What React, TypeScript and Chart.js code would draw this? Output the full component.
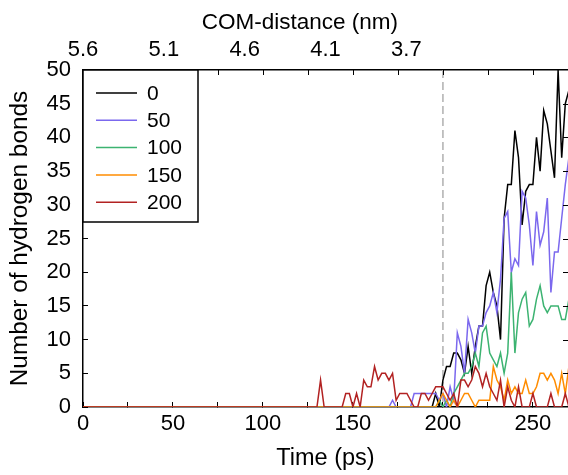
import React, { useEffect, useRef } from "react";
import { Chart, registerables } from "chart.js";

Chart.register(...registerables);

// Time axis (ps); all series are 0 between 0 and 130 ps
const times = [
  0,
  130, 132, 134, 136, 138, 140, 142, 144, 146, 148,
  150, 152, 154, 156, 158, 160, 162, 164, 166, 168,
  170, 172, 174, 176, 178, 180, 182, 184, 186, 188,
  190, 192, 194, 196, 198, 200, 202, 204, 206, 208,
  210, 212, 214, 216, 218, 220, 222, 224, 226, 228,
  230, 232, 234, 236, 238, 240, 242, 244, 246, 248,
  250, 252, 254, 256, 258, 260, 262, 264, 266, 268,
  270,
];

const hb0 = [
  0,
  0, 0, 0, 0, 0, 0, 0, 0, 0, 0,
  0, 0, 0, 0, 0, 0, 0, 0, 0, 0,
  0, 0, 0, 0, 0, 0, 0, 0, 0, 0,
  0, 0, 0, 2, 0, 4, 6, 6, 8, 8,
  7, 5, 9, 5, 9, 12, 12, 18, 20, 17,
  15, 10, 28, 33, 33, 41, 37, 27, 32, 33,
  33, 40, 35, 44, 42, 38, 34, 50, 37, 45,
  47,
];

const hb50 = [
  0,
  0, 0, 0, 0, 0, 0, 0, 0, 0, 0,
  0, 0, 0, 0, 0, 0, 0, 0, 0, 0,
  0, 1, 0, 0, 0, 0, 0, 2, 2, 2,
  2, 2, 2, 2, 1, 2, 0, 3, 1, 11,
  9, 5, 13, 11, 8, 12, 12, 14, 15, 17,
  14, 19, 28, 29, 20, 22, 21, 32, 31, 27,
  21, 29, 24, 26, 31, 17, 23, 23, 28, 33,
  37,
];

const hb100 = [
  0,
  0, 0, 0, 0, 0, 0, 0, 0, 0, 0,
  0, 0, 0, 0, 0, 0, 0, 0, 0, 0,
  0, 0, 0, 0, 0, 0, 0, 0, 0, 0,
  0, 0, 0, 0, 1, 0, 1, 0, 2, 3,
  4, 5, 5, 6, 8, 6, 11, 12, 8, 7,
  6, 8, 5, 8, 20, 8, 14, 16, 17, 12,
  13, 16, 18, 15, 14, 15, 15, 15, 13, 13,
  16,
];

const hb150 = [
  0,
  0, 0, 0, 0, 0, 0, 0, 0, 0, 0,
  0, 0, 0, 0, 0, 0, 0, 0, 0, 0,
  0, 0, 0, 0, 0, 0, 0, 0, 0, 0,
  0, 0, 0, 0, 1, 2, 1, 0, 1, 0,
  1, 2, 2, 1, 0, 1, 1, 1, 1, 6,
  4, 3, 1, 4, 2, 3, 2, 2, 4, 2,
  2, 3, 5, 5, 4, 5, 4, 2, 5, 2,
  6,
];

const hb200 = [
  0,
  0, 4, 0, 0, 0, 0, 0, 0, 2, 2,
  0, 2, 0, 4, 3, 3, 6, 4, 5, 5,
  4, 5, 1, 2, 2, 2, 1, 0, 0, 2,
  2, 1, 2, 3, 3, 3, 2, 1, 2, 0,
  4, 4, 3, 4, 6, 5, 3, 5, 3, 2,
  1, 4, 0, 3, 1, 0, 3, 0, 0, 0,
  2, 0, 0, 0, 0, 2, 0, 0, 0, 2,
  0,
];

const seriesLabels = ["0", "50", "100", "150", "200"];
const seriesColors = ["#000000", "#7b68ee", "#3cb371", "#ff8c00", "#b22222"];
const topTickLabels = ["5.6", "5.1", "4.6", "4.1", "3.7"];
const topTitle = "COM-distance (nm)";
const bottomTitle = "Time (ps)";
const leftTitle = "Number of hydrogen bonds";
const markerTime = 200;
const xMin = 0;
const xMax = 269.5;
const yMin = 0;
const yMax = 50;

const FONT = "'Liberation Sans', Arial, Helvetica, sans-serif";

function zeroPadding(s: any) {
  s.paddingLeft = 0;
  s.paddingRight = 0;
  s.paddingTop = 0;
  s.paddingBottom = 0;
}

export default function App() {
  const ref = useRef<HTMLCanvasElement>(null);

  useEffect(() => {
    if (!ref.current) return;
    const series = [hb0, hb50, hb100, hb150, hb200];
    const datasets = series.map((vals, i) => ({
      label: seriesLabels[i],
      data: times.map((t, j) => ({ x: t, y: vals[j] })),
      borderColor: seriesColors[i],
      backgroundColor: seriesColors[i],
      borderWidth: 1.5,
      pointRadius: 0,
      tension: 0,
      fill: false,
      order: series.length - 1 - i,
    }));

    const markerPlugin = {
      id: "marker",
      beforeDatasetsDraw(chart: any) {
        const { ctx, chartArea, scales } = chart;
        const x = scales.x.getPixelForValue(markerTime);
        ctx.save();
        ctx.strokeStyle = "#b0b0b0";
        ctx.lineWidth = 1.5;
        ctx.setLineDash([8, 4]);
        ctx.beginPath();
        ctx.moveTo(x, chartArea.top);
        ctx.lineTo(x, chartArea.bottom);
        ctx.stroke();
        ctx.restore();
      },
    };

    const mirrorPlugin = {
      id: "mirror",
      afterDraw(chart: any) {
        const { ctx, chartArea, scales } = chart;
        ctx.save();
        ctx.strokeStyle = "#000";
        ctx.lineWidth = 1;
        ctx.beginPath();
        scales.x.ticks.forEach((t: any) => {
          const px = Math.round(scales.x.getPixelForValue(t.value)) + 0.5;
          if (px > chartArea.left + 2 && px < chartArea.right - 2) {
            ctx.moveTo(px, chartArea.top);
            ctx.lineTo(px, chartArea.top + 5);
          }
        });
        scales.y.ticks.forEach((t: any) => {
          const py = Math.round(scales.y.getPixelForValue(t.value)) + 0.5;
          if (py > chartArea.top + 2 && py < chartArea.bottom - 2) {
            ctx.moveTo(chartArea.right, py);
            ctx.lineTo(chartArea.right - 5, py);
          }
        });
        ctx.stroke();
        ctx.restore();
      },
    };

    const legendPlugin = {
      id: "boxLegend",
      afterDraw(chart: any) {
        const { ctx, chartArea } = chart;
        const left = chartArea.left;
        const top = chartArea.top;
        const w = 115;
        const h = 152;
        ctx.save();
        ctx.fillStyle = "#ffffff";
        ctx.fillRect(left, top, w, h);
        ctx.strokeStyle = "#000";
        ctx.lineWidth = 1.5;
        ctx.strokeRect(left, top, w, h);
        ctx.font = `21px ${FONT}`;
        ctx.textBaseline = "middle";
        ctx.textAlign = "left";
        chart.data.datasets.forEach((ds: any, i: number) => {
          const y = top + 23 + i * 27.3;
          ctx.strokeStyle = ds.borderColor;
          ctx.lineWidth = 1.5;
          ctx.beginPath();
          ctx.moveTo(left + 13, y);
          ctx.lineTo(left + 54, y);
          ctx.stroke();
          ctx.fillStyle = "#000";
          ctx.fillText(ds.label, left + 64, y + 1);
        });
        ctx.restore();
      },
    };

    const topTitlePlugin = {
      id: "topTitle",
      afterDraw(chart: any) {
        const { ctx, chartArea } = chart;
        ctx.save();
        ctx.font = `22.5px ${FONT}`;
        ctx.fillStyle = "#000";
        ctx.textAlign = "center";
        ctx.textBaseline = "middle";
        ctx.fillText(topTitle, chartArea.left + 0.447 * (chartArea.right - chartArea.left), 23);
        ctx.restore();
      },
    };

    const chart = new Chart(ref.current, {
      type: "line",
      data: { datasets: datasets as any },
      plugins: [markerPlugin, mirrorPlugin, legendPlugin, topTitlePlugin],
      options: {
        animation: false,
        responsive: false,
        maintainAspectRatio: false,
        layout: { padding: 0 },
        plugins: {
          legend: { display: false },
          tooltip: { enabled: false },
          title: { display: false },
        },
        scales: {
          x: {
            type: "linear",
            position: "bottom",
            min: xMin,
            max: xMax,
            afterFit: (s: any) => {
              s.height = 68;
              zeroPadding(s);
            },
            grid: {
              display: true,
              drawOnChartArea: false,
              drawTicks: true,
              tickLength: -5,
              color: "#000",
              lineWidth: 1,
            },
            border: { display: true, color: "#000", width: 1.5 },
            ticks: {
              stepSize: 25,
              autoSkip: false,
              includeBounds: false,
              maxRotation: 0,
              minRotation: 0,
              padding: 8.8,
              color: "#000",
              font: { family: FONT, size: 22 },
              callback: (v: any) => (Number(v) % 50 === 0 ? String(v) : ""),
            },
            title: {
              display: true,
              text: bottomTitle,
              color: "#000",
              font: { family: FONT, size: 23.5 },
              padding: { top: 0, bottom: 2 },
            },
          },
          x2: {
            type: "linear",
            position: "top",
            min: xMin,
            max: xMax,
            afterFit: (s: any) => {
              s.height = 70;
              zeroPadding(s);
            },
            grid: { display: false, drawTicks: false },
            border: { display: true, color: "#000", width: 1.5 },
            ticks: {
              stepSize: 45,
              autoSkip: false,
              includeBounds: false,
              maxRotation: 0,
              minRotation: 0,
              padding: 6.8,
              color: "#000",
              font: { family: FONT, size: 22 },
              callback: (_v: any, i: number) => topTickLabels[i] ?? "",
            },
          },
          y: {
            type: "linear",
            position: "left",
            min: yMin,
            max: yMax,
            afterFit: (s: any) => {
              s.width = 83;
              zeroPadding(s);
            },
            grid: {
              display: true,
              drawOnChartArea: false,
              drawTicks: true,
              tickLength: -5,
              color: "#000",
              lineWidth: 1,
            },
            border: { display: true, color: "#000", width: 1.5 },
            ticks: {
              stepSize: 5,
              padding: 17,
              color: "#000",
              font: { family: FONT, size: 22 },
            },
            title: {
              display: true,
              text: leftTitle,
              color: "#000",
              font: { family: FONT, size: 24.4 },
              padding: { top: 5.4, bottom: 0 },
            },
          },
        },
      } as any,
    });

    return () => chart.destroy();
  }, []);

  return (
    <div style={{ position: "fixed", left: 0, top: 0, width: 568, height: 475, background: "#fff" }}>
      <canvas ref={ref} width={568} height={475} style={{ display: "block" }} />
    </div>
  );
}
